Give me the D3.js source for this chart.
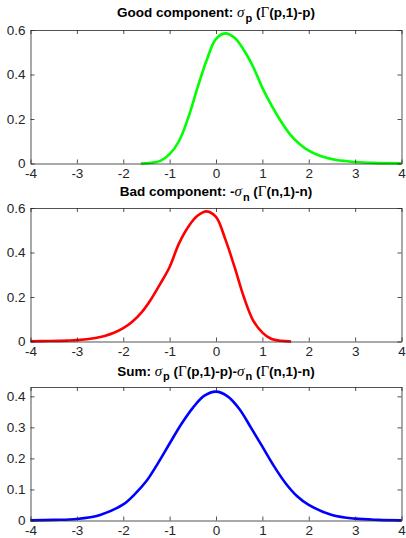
<!DOCTYPE html>
<html>
<head>
<meta charset="utf-8">
<script src="https://d3js.org/d3.v7.min.js"></script>
<style>
  body { margin: 0; background: #fff; }
  svg text { font-family: "Liberation Sans", Arial, sans-serif; fill: #262626; }
</style>
</head>
<body>
<svg id="chart" width="406" height="538"></svg>
<script>
// values
const xTicks = [-4, -3, -2, -1, 0, 1, 2, 3, 4];
const yTicksComp = [0, 0.2, 0.4, 0.6];
const yTicksSum = [0, 0.1, 0.2, 0.3, 0.4];

const goodX = [-1.62, -1.4, -1.2, -1.0, -0.8, -0.6, -0.4, -0.2, 0, 0.2, 0.4, 0.6, 0.8, 1.0, 1.2, 1.4, 1.6, 1.8, 2.0, 2.2, 2.4, 2.6, 2.8, 3.0, 3.4, 4.0];
const goodY = [0, 0.003, 0.012, 0.042, 0.1, 0.205, 0.34, 0.465, 0.56, 0.585, 0.565, 0.51, 0.435, 0.34, 0.26, 0.19, 0.13, 0.088, 0.058, 0.038, 0.025, 0.016, 0.011, 0.007, 0.003, 0.001];

const badX = [-4, -3.6, -3.2, -3.0, -2.6, -2.4, -2.2, -2.0, -1.8, -1.6, -1.4, -1.2, -1.0, -0.8, -0.6, -0.4, -0.2, 0, 0.2, 0.4, 0.6, 0.8, 1.0, 1.2, 1.4, 1.62];
const badY = [0.001, 0.002, 0.004, 0.006, 0.016, 0.025, 0.039, 0.06, 0.09, 0.132, 0.19, 0.26, 0.335, 0.44, 0.515, 0.565, 0.585, 0.56, 0.46, 0.335, 0.2, 0.095, 0.04, 0.011, 0.003, 0];

const sumX = [-4, -3.5, -3, -2.5, -2, -1.75, -1.5, -1.25, -1, -0.75, -0.5, -0.25, 0, 0.25, 0.5, 0.75, 1, 1.25, 1.5, 1.75, 2, 2.5, 3, 3.5, 4];
const sumY = [0.0005, 0.002, 0.005, 0.018, 0.052, 0.085, 0.127, 0.185, 0.248, 0.31, 0.363, 0.402, 0.415, 0.4, 0.36, 0.3, 0.238, 0.175, 0.12, 0.078, 0.05, 0.018, 0.006, 0.002, 0.0005];

const svg = d3.select("#chart");
const left = 30.5, right = 401.5, plotH = 133.5;

const x = d3.scaleLinear().domain([-4, 4]).range([left, right]);
const fmt = d => String(d);   // plain hyphen minus, as in the reference

// title pieces: s = style (b bold sans, i italic serif, r upright serif, sub subscript)
const panels = [
  { top: 30, ymax: 0.6, yTicks: yTicksComp, xs: goodX, ys: goodY, color: "#00ff00", titleY: 17,
    title: [["Good component: ", "b"], ["σ", "i"], ["p", "sub"], [" (", "b"], ["Γ", "r"], ["(p,1)-p)", "b"]] },
  { top: 208, ymax: 0.6, yTicks: yTicksComp, xs: badX, ys: badY, color: "#ff0000", titleY: 196,
    title: [["Bad component: -", "b"], ["σ", "i"], ["n", "sub"], [" (", "b"], ["Γ", "r"], ["(n,1)-n)", "b"]] },
  { top: 387, ymax: 0.43, yTicks: yTicksSum, xs: sumX, ys: sumY, color: "#0000ff", titleY: 375.5,
    title: [["Sum: ", "b"], ["σ", "i"], ["p", "sub"], [" (", "b"], ["Γ", "r"], ["(p,1)-p)-", "b"], ["σ", "i"], ["n", "sub"], [" (", "b"], ["Γ", "r"], ["(n,1)-n)", "b"]] }
];

panels.forEach(p => {
  const y = d3.scaleLinear().domain([0, p.ymax]).range([p.top + plotH, p.top]);
  const g = svg.append("g");

  const line = d3.line()
    .x((d, i) => x(p.xs[i]))
    .y(d => y(Math.max(0, d)))
    .curve(d3.curveCatmullRom.alpha(0.5));

  g.append("path")
    .datum(p.ys)
    .attr("d", line)
    .attr("fill", "none")
    .attr("stroke", p.color)
    .attr("stroke-width", 2.6)
    .attr("stroke-linejoin", "round");

  const styleAxis = a => {
    a.select(".domain").attr("stroke", "#262626").attr("stroke-width", 0.8);
    a.selectAll(".tick line").attr("stroke", "#262626").attr("stroke-width", 0.8);
    a.selectAll("text").attr("font-size", 13.5).attr("font-family", "Liberation Sans, Arial, sans-serif").attr("fill", "#262626");
  };

  g.append("g").attr("transform", `translate(0,${p.top + plotH})`)
    .call(d3.axisBottom(x).tickValues(xTicks).tickSize(-4).tickPadding(5).tickSizeOuter(0).tickFormat(fmt))
    .call(styleAxis);
  g.append("g").attr("transform", `translate(0,${p.top})`)
    .call(d3.axisTop(x).tickValues(xTicks).tickSize(-4).tickSizeOuter(0).tickFormat(""))
    .call(styleAxis);
  g.append("g").attr("transform", `translate(${left},0)`)
    .call(d3.axisLeft(y).tickValues(p.yTicks).tickSize(-4).tickPadding(5).tickSizeOuter(0).tickFormat(fmt))
    .call(styleAxis);
  g.append("g").attr("transform", `translate(${right},0)`)
    .call(d3.axisRight(y).tickValues(p.yTicks).tickSize(-4).tickSizeOuter(0).tickFormat(""))
    .call(styleAxis);

  const t = svg.append("text")
    .attr("x", (left + right) / 2)
    .attr("y", p.titleY)
    .attr("text-anchor", "middle")
    .attr("font-size", 13.5)
    .attr("fill", "#000");
  p.title.forEach((piece, k) => {
    const [str, s] = piece;
    const prev = k > 0 ? p.title[k - 1][1] : null;
    const ts = t.append("tspan").text(str);
    if (s === "b") {
      ts.attr("font-weight", "bold").style("fill", "#000");
    } else if (s === "i") {
      ts.attr("font-family", "Liberation Serif, serif").attr("font-style", "italic").attr("font-size", 15).style("fill", "#000");
    } else if (s === "r") {
      ts.attr("font-family", "Liberation Serif, serif").attr("font-size", 15).style("fill", "#000");
    } else if (s === "sub") {
      ts.attr("font-weight", "bold").attr("font-size", 11).attr("dy", 4.5).attr("dx", 1).style("fill", "#000");
    }
    if (prev === "sub") ts.attr("dy", -4.5);
  });
});
</script>
</body>
</html>
